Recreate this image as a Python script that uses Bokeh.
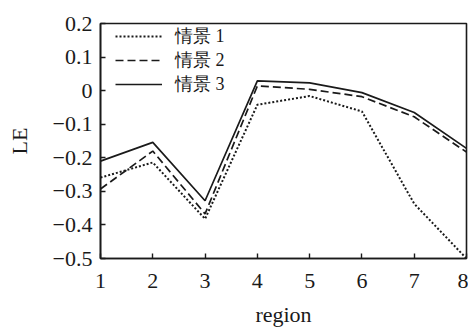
from bokeh.plotting import figure
from bokeh.models import Range1d, FixedTicker, CustomJSTickFormatter, Legend, LegendItem
from bokeh.embed import file_html
from bokeh.resources import INLINE

regions = [1, 2, 3, 4, 5, 6, 7, 8]
s1 = [-0.259, -0.214, -0.382, -0.042, -0.016, -0.062, -0.337, -0.50]
s2 = [-0.293, -0.180, -0.367, 0.014, 0.004, -0.018, -0.078, -0.183]
s3 = [-0.210, -0.154, -0.328, 0.029, 0.023, -0.006, -0.065, -0.172]
names = ["情景 1", "情景 2", "情景 3"]
x_ticks = [1, 2, 3, 4, 5, 6, 7, 8]
y_ticks = [-0.5, -0.4, -0.3, -0.2, -0.1, 0, 0.1, 0.2]

FONT = "Liberation Serif"

p = figure(width=468, height=329, output_backend="svg", toolbar_location=None,
           x_range=Range1d(1, 8), y_range=Range1d(-0.5, 0.2),
           min_border_left=100, min_border_right=2, min_border_top=23, min_border_bottom=69)
p.xgrid.visible = False
p.ygrid.visible = False
p.outline_line_color = "#1a1a1a"
p.outline_line_width = 1.6
p.background_fill_color = "white"
p.border_fill_color = "white"

r1 = p.line(regions, s1, line_color="#1a1a1a", line_width=2, line_dash="2 2")
r2 = p.line(regions, s2, line_color="#1a1a1a", line_width=1.7, line_dash="8 4")
r3 = p.line(regions, s3, line_color="#1a1a1a", line_width=1.7)

for ax in (p.xaxis[0], p.yaxis[0]):
    ax.major_tick_in = 5
    ax.major_tick_out = 0
    ax.minor_tick_line_color = None
    ax.axis_line_color = "#1a1a1a"
    ax.axis_line_width = 1.6
    ax.major_tick_line_color = "#1a1a1a"
    ax.major_tick_line_width = 1.4
    ax.major_label_text_font = FONT
    ax.major_label_text_font_size = "22px"
    ax.major_label_text_color = "#1a1a1a"
    ax.axis_label_text_font = FONT
    ax.axis_label_text_font_size = "22px"
    ax.axis_label_text_font_style = "normal"
    ax.axis_label_text_color = "#1a1a1a"

p.xaxis.ticker = FixedTicker(ticks=x_ticks)
p.yaxis.ticker = FixedTicker(ticks=y_ticks)
p.yaxis.formatter = CustomJSTickFormatter(code="""
    if (Math.abs(tick) < 1e-9) return "0";
    return tick.toFixed(1).replace("-", "\\u2212");
""")
p.xaxis.axis_label = "region"
p.yaxis.axis_label = "LE"
p.xaxis.major_label_standoff = 15
p.yaxis.major_label_standoff = 8
p.xaxis.axis_label_standoff = 11
p.yaxis.axis_label_standoff = 18

legend = Legend(items=[LegendItem(label=names[0], renderers=[r1]),
                       LegendItem(label=names[1], renderers=[r2]),
                       LegendItem(label=names[2], renderers=[r3])],
                location=(15, 162), margin=0, padding=0, spacing=0,
                glyph_width=47, glyph_height=20, label_height=20,
                label_standoff=13, label_text_font=FONT,
                label_text_font_size="18px", label_text_color="#1a1a1a",
                border_line_color=None, background_fill_alpha=0)
p.add_layout(legend, "center")

open("out.html", "w").write(file_html(p, INLINE))
